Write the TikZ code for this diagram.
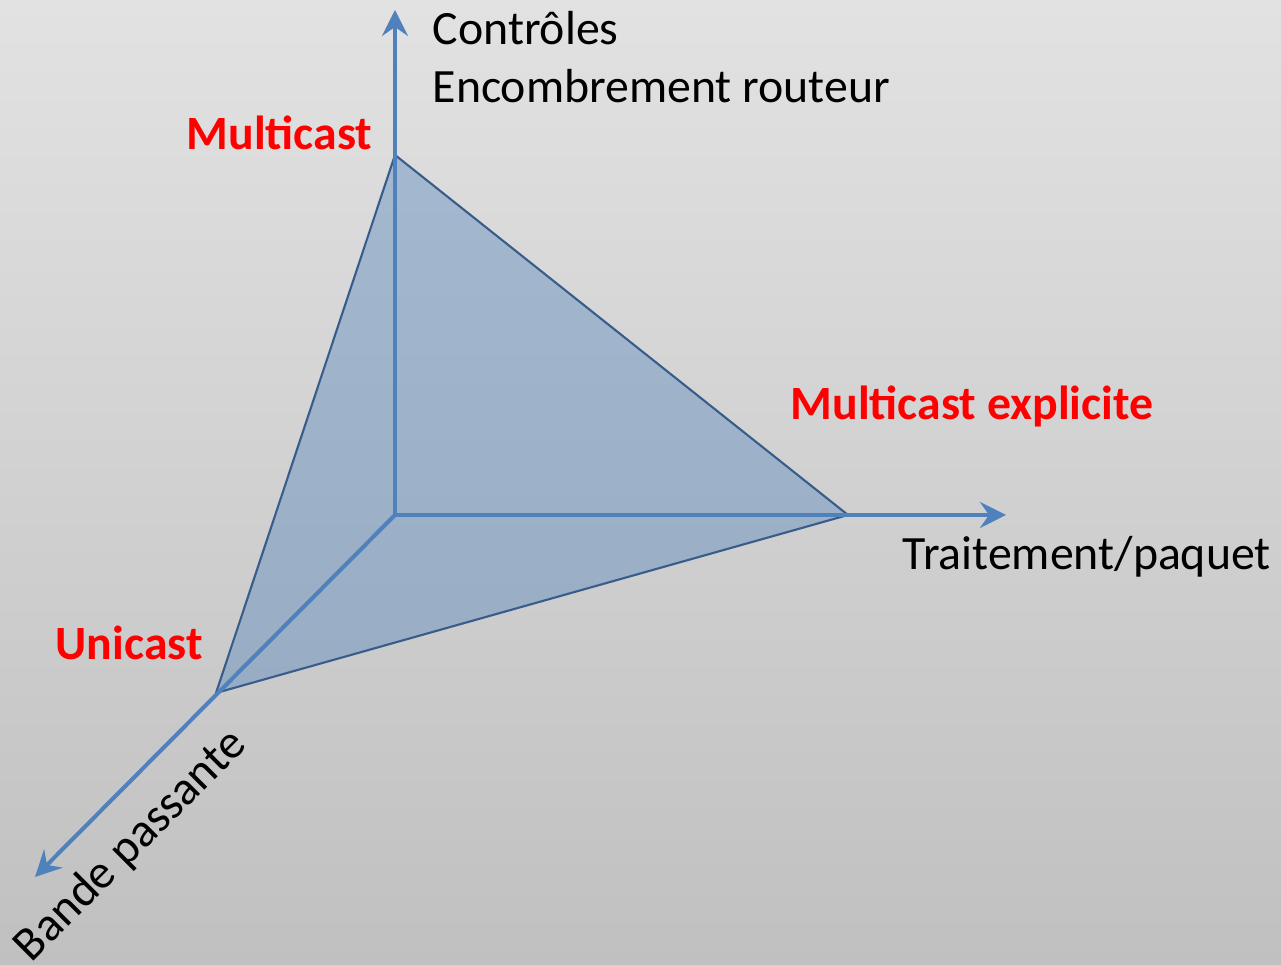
\documentclass[tikz,border=0pt]{standalone}
\usepackage{fontspec}
\setmainfont{Carlito}
\usepackage{tikz}
\usetikzlibrary{positioning}
\usetikzlibrary{arrows.meta}
\usepackage{xcolor}
\definecolor{axisblue}{HTML}{4F81BD}
\definecolor{edgeblue}{HTML}{385D8A}
\definecolor{bgtop}{HTML}{E2E2E2}
\definecolor{bgbottom}{HTML}{C0C0C0}
\tikzset{
  axisline/.style={draw=axisblue, line width=1.15pt, -{Stealth[length=2.6mm, width=2.6mm, inset=0.9mm]}},
  axislabel/.style={font=\fontsize{13.6}{16}\selectfont, text=black, inner sep=0pt},
  castlabel/.style={font=\fontsize{13.6}{16}\selectfont\bfseries, text=red, inner sep=0pt},
  face/.style={fill=axisblue, fill opacity=0.4, draw=edgeblue, line width=0.6pt, line join=round}
}

\begin{document}
\begin{tikzpicture}
            \shade[top color=bgtop, bottom color=bgbottom] (0,0) rectangle (12.81,9.65);
            \useasboundingbox (0,0) rectangle (12.81,9.65);

            \coordinate (origin) at (3.95,4.50);
            \coordinate (top) at (3.95,8.10);
            \coordinate (right) at (8.48,4.50);
            \coordinate (left) at (2.16,2.72);
            \coordinate (uptip) at (3.95,9.55);
            \coordinate (righttip) at (10.06,4.50);
            \coordinate (downtip) at (0.35,0.88);

            \filldraw[face] (top) -- (right) -- (left) -- cycle;

            \draw[axisline] (origin) -- (uptip);
            \draw[axisline] (origin) -- (righttip);
            \draw[axisline] (origin) -- (downtip);

            \node[axislabel, anchor=base west] (controles) at (4.32,9.20) {Contrôles};
            \node[axislabel, anchor=base west] (encombrement) at (4.32,8.62) {Encombrement routeur};
            \node[axislabel, anchor=base west] (traitement) at (9.02,3.95) {Traitement/paquet};
            \node[axislabel, rotate=45] (bande) at (1.31,1.19) {Bande passante};

            \node[castlabel, anchor=base east] (multicast) at (3.73,8.15) {Multicast};
            \node[castlabel, anchor=base west] (explicite) at (7.90,5.45) {Multicast explicite};
            \node[castlabel, anchor=base west] (unicast) at (0.55,3.05) {Unicast};
        \end{tikzpicture}
\end{document}
